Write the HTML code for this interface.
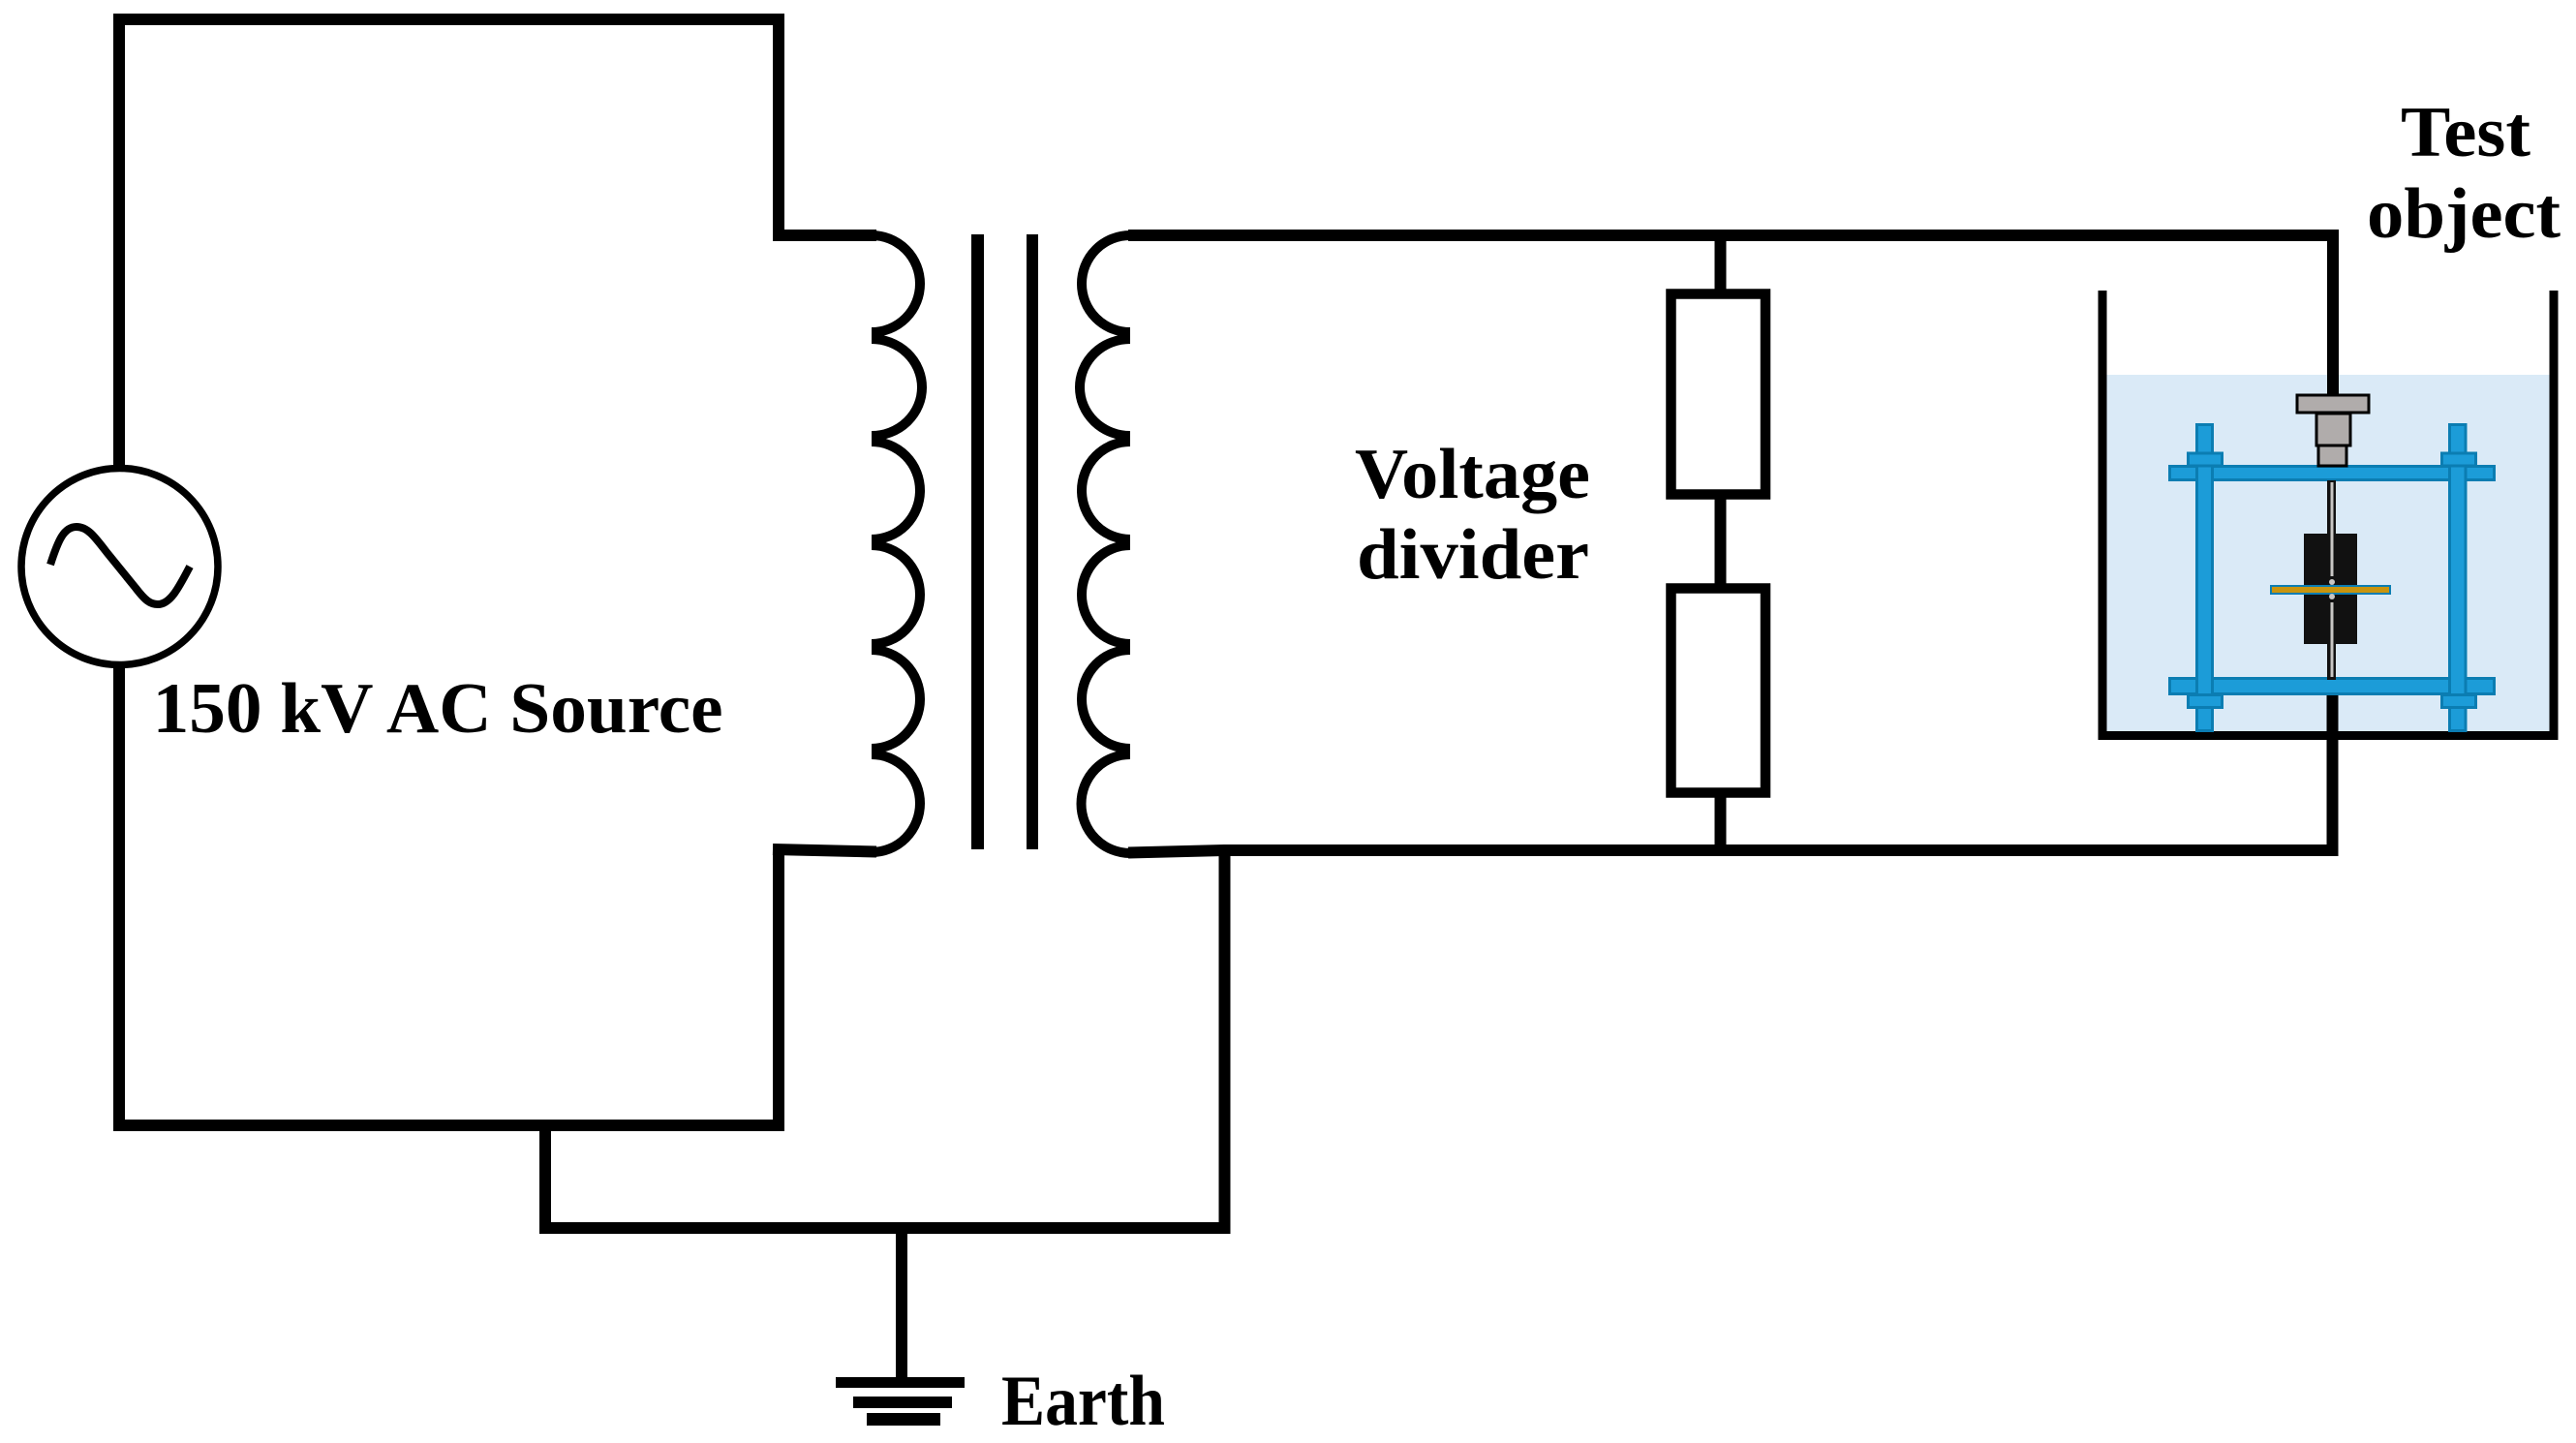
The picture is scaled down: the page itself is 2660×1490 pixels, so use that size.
<!DOCTYPE html>
<html lang="en">
<head>
<meta charset="utf-8">
<title>150 kV AC test circuit</title>
<style>
html,body{margin:0;padding:0;background:#fff}
svg{display:block}
text{font-family:"Liberation Serif",serif;font-weight:700;font-size:74px;fill:#000}
</style>
</head>
<body>
<svg width="2660" height="1490" viewBox="0 0 2660 1490" xmlns="http://www.w3.org/2000/svg">
<rect width="2660" height="1490" fill="#fff"/>
<!-- water -->
<rect x="2175" y="387" width="458" height="369" fill="#daeaf7"/>
<g fill="none" stroke="#000" stroke-width="12" stroke-linejoin="miter" stroke-linecap="butt">
  <!-- primary loop -->
  <path d="M123 485V20H804V243H905"/>
  <path d="M123 690V1162H804V875"/>
  <path d="M798 877L905 879.5"/>
  <path d="M563 1162V1268H1264.5V878"/>
  <!-- secondary -->
  <path d="M1165 243H2409V407"/>
  <path d="M1165 880.5L1264 878H2408.5V717"/>
  <!-- divider wires -->
  <path d="M1776.5 243V305M1776.5 510V608M1776.5 817V878"/>
  <!-- earth stem -->
  <path d="M931 1268V1422"/>
</g>
<!-- coils -->
<g fill="none" stroke="#000" stroke-width="10" stroke-linecap="butt">
  <path d="M900 243A50 50 0 0 1 900 343M900 350A52 50 0 0 1 900 450M900 456A50 50.5 0 0 1 900 557M900 563A50 51 0 0 1 900 665M900 671A50 51 0 0 1 900 773M900 779A50 50.5 0 0 1 900 880"/>
  <path d="M1167 243A50 50 0 0 0 1167 343M1167 350A52 50 0 0 0 1167 450M1167 456A50 50.5 0 0 0 1167 557M1167 563A50 51 0 0 0 1167 665M1167 671A50 51 0 0 0 1167 773M1167 779A50 50.5 0 0 0 1167 881"/>
</g>
<!-- core -->
<rect x="1003" y="242" width="13" height="635" fill="#000"/>
<rect x="1060" y="242" width="12" height="635" fill="#000"/>
<!-- source -->
<circle cx="123.5" cy="585" r="101.5" fill="#fff" stroke="#000" stroke-width="7.5"/>
<path d="M52 583C60 558 66 544 79 544C90 544 97 553 110 570L140 607C150 620 155 624 163 624C176 624 185 606 196 585" fill="none" stroke="#000" stroke-width="8"/>
<!-- resistors -->
<rect x="1725.5" y="303.5" width="97.5" height="207" fill="#fff" stroke="#000" stroke-width="10.5"/>
<rect x="1725.5" y="607.5" width="97.5" height="211" fill="#fff" stroke="#000" stroke-width="10.5"/>
<!-- ground -->
<rect x="863" y="1422" width="133" height="11" fill="#000"/>
<rect x="881" y="1442" width="102" height="12" fill="#000"/>
<rect x="895" y="1459" width="76" height="13" fill="#000"/>
<!-- tank -->
<path d="M2171 300V759.5H2637V300" fill="none" stroke="#000" stroke-width="9" stroke-linejoin="miter"/>
<path d="M2402.5 717H2414.5V764H2402.5Z" fill="#000"/>
<!-- frame -->
<g fill="#1c9cd8" stroke="#0b7db2" stroke-width="3">
  <rect x="2240.5" y="481.5" width="335" height="14"/>
  <rect x="2240.5" y="700.5" width="335" height="16"/>
  <rect x="2268.5" y="438.5" width="16" height="316"/>
  <rect x="2529.5" y="438.5" width="16.5" height="316"/>
  <rect x="2259.5" y="468" width="35" height="13"/>
  <rect x="2521.5" y="468" width="35" height="13"/>
  <rect x="2259.5" y="717.5" width="35" height="13"/>
  <rect x="2521.5" y="717.5" width="35" height="13"/>
</g>
<!-- bushing -->
<g fill="#b0acab" stroke="#000" stroke-width="3">
  <rect x="2372" y="408" width="74" height="18"/>
  <rect x="2392" y="427" width="35" height="33"/>
  <rect x="2394" y="460" width="29" height="21"/>
</g>
<!-- electrode block -->
<rect x="2379" y="551" width="55" height="114" fill="#111"/>
<rect x="2403" y="496" width="9" height="206" fill="#111"/>
<path d="M2408 498V595M2408 622V699" stroke="#c8c6c4" stroke-width="3" fill="none"/>
<rect x="2345" y="605" width="123" height="8" fill="#c8940e" stroke="#0b7db2" stroke-width="2"/>
<circle cx="2408" cy="601" r="3" fill="#c8c6c4"/>
<circle cx="2408" cy="616" r="3" fill="#c8c6c4"/>
<!-- labels -->
<text x="157.6" y="756" textLength="589" lengthAdjust="spacingAndGlyphs">150 kV AC Source</text>
<text x="1399" y="514" textLength="243" lengthAdjust="spacingAndGlyphs">Voltage</text>
<text x="1401" y="597" textLength="240" lengthAdjust="spacingAndGlyphs">divider</text>
<text x="2479" y="161" textLength="134" lengthAdjust="spacingAndGlyphs">Test</text>
<text x="2444" y="245" textLength="200" lengthAdjust="spacingAndGlyphs">object</text>
<text x="1034" y="1471" textLength="169" lengthAdjust="spacingAndGlyphs">Earth</text>
</svg>
</body>
</html>
